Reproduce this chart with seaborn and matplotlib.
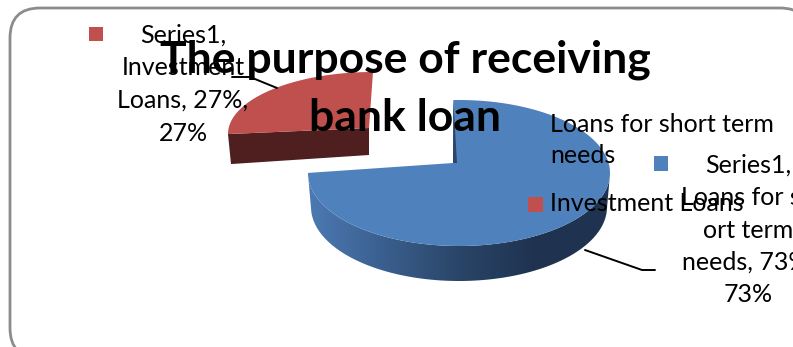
import numpy as np
import seaborn as sns
import matplotlib
matplotlib.use("Agg")
import matplotlib.pyplot as plt
from matplotlib.patches import FancyBboxPatch, Polygon, Rectangle

# Survey shares of bank-loan purposes
categories = ["Loans for short term needs", "Investment Loans"]
shares = [73, 27]
series_name = "Series1"
title_lines = ["The purpose of receiving", "bank loan"]
legend_labels = ["Loans for short term", "needs", "Investment Loans"]

sns.set_theme(style="white")
plt.rcParams["font.family"] = ["Lato", "DejaVu Sans"]
blue, red = sns.color_palette(["#4f81bd", "#c0504d"])
blue_wall = sns.blend_palette(["#4d7ab3", "#3a5f8e", "#2a4568", "#1f3350", "#1f3350"], as_cmap=True)
red_wall = "#4f1f1f"
INK = "#000000"

W, H = 793, 347
fig = plt.figure(figsize=(W / 100, H / 100), dpi=100, facecolor="white")
ax = fig.add_axes([0, 0, 1, 1])
ax.set_xlim(0, W)
ax.set_ylim(H, 0)
ax.axis("off")


def rim(cx, cy, rx, ry, start, sweep, warp):
    """Points on a tilted pie rim; warp foreshortens the angles for the 3-D view."""
    t = np.linspace(start, start + sweep, 240)
    shown = t - warp * np.sin(np.radians(t))
    a = np.radians(shown)
    return shown, np.column_stack([cx + rx * np.sin(a), cy - ry * np.cos(a)])


fractions = np.array(shares) / sum(shares)
blue_sweep = 360 * fractions[0]
red_sweep = 360 * fractions[1]

# Chart-area frame
ax.add_patch(FancyBboxPatch((10, 8), 800, 350, boxstyle="round,pad=0,rounding_size=30",
                            fc="white", ec="#8c8c8c", lw=2.0, zorder=0))

# Exploded investment slice: top face and cut wall
_, red_top = rim(373, 134, 145, 62, blue_sweep, red_sweep, 7.2)
red_apex = np.array([369, 128])
ax.add_patch(Polygon([red_top[0], red_apex, red_apex + [0, 27], red_top[0] + [3, 30]],
                     fc=red_wall, ec="none", zorder=2))
ax.add_patch(Polygon(np.vstack([red_apex, red_top]), fc=red, ec="none", zorder=3))

# Short-term slice: shaded outer wall, then top face
shown, blue_top = rim(459, 173, 151, 73, -2.6, blue_sweep, 10)
front = (shown >= 90) & (shown <= 270)
_, blue_low = rim(459, 173 + 34, 148, 74, -2.6, blue_sweep, 10)
wall = np.vstack([blue_top[front], blue_low[front][::-1]])
wall_patch = Polygon(wall, fc="none", ec="none", zorder=2)
ax.add_patch(wall_patch)
ramp = ax.imshow(np.linspace(0, 1, 256)[None, :], cmap=blue_wall, aspect="auto",
                 extent=(308, 610, 290, 170), zorder=2)
ramp.set_clip_path(wall_patch)
ax.set_xlim(0, W)
ax.set_ylim(H, 0)

blue_apex = np.array([453, 163])
ax.add_patch(Polygon(np.vstack([blue_apex, blue_top]), fc=blue, ec="none", zorder=3))
ax.add_patch(Polygon([blue_top[0], blue_apex, blue_apex + [4, 0]], fc="#2a4568", ec="none", zorder=4))

# Leader lines from the slices to their data labels
ax.plot([277, 250, 232], [88, 77, 77], color=INK, lw=1.4, zorder=5)
ax.plot([585, 642, 655], [250, 270, 270], color=INK, lw=1.4, zorder=5)

# Data labels with their keys
LABEL_PT = 18
ax.add_patch(Rectangle((89, 27), 14, 14, fc=red, ec="none", zorder=6))
left_lines = [f"{series_name},", "Investment", f"Loans, {shares[1]}%,", f"{shares[1]}%"]
for y, line in zip([35, 67, 100, 133], left_lines):
    ax.text(183, y, line, ha="center", va="center", fontsize=LABEL_PT, color=INK, zorder=6)

ax.add_patch(Rectangle((654, 156), 14, 15, fc=blue, ec="none", zorder=6))
right_lines = [f"{series_name},", "Loans for sh", "ort term", f"needs, {shares[0]}%,", f"{shares[0]}%"]
for y, line in zip([165, 197, 230, 262, 295], right_lines):
    ax.text(748, y, line, ha="center", va="center", fontsize=LABEL_PT, color=INK, zorder=6,
            clip_on=True)

# Legend
ax.add_patch(Rectangle((528, 118), 15, 15, fc=blue, ec="none", zorder=6))
ax.add_patch(Rectangle((528, 197), 15, 15, fc=red, ec="none", zorder=6))
for y, line in zip([124, 155, 203], legend_labels):
    ax.text(550, y, line, ha="left", va="center", fontsize=LABEL_PT, color=INK, zorder=7)

# Title
for y, line in zip([60, 118], title_lines):
    ax.text(405, y, line, ha="center", va="center", fontsize=32, fontweight="bold",
            color=INK, zorder=8)

fig.savefig("out.png", dpi=100, facecolor="white")
